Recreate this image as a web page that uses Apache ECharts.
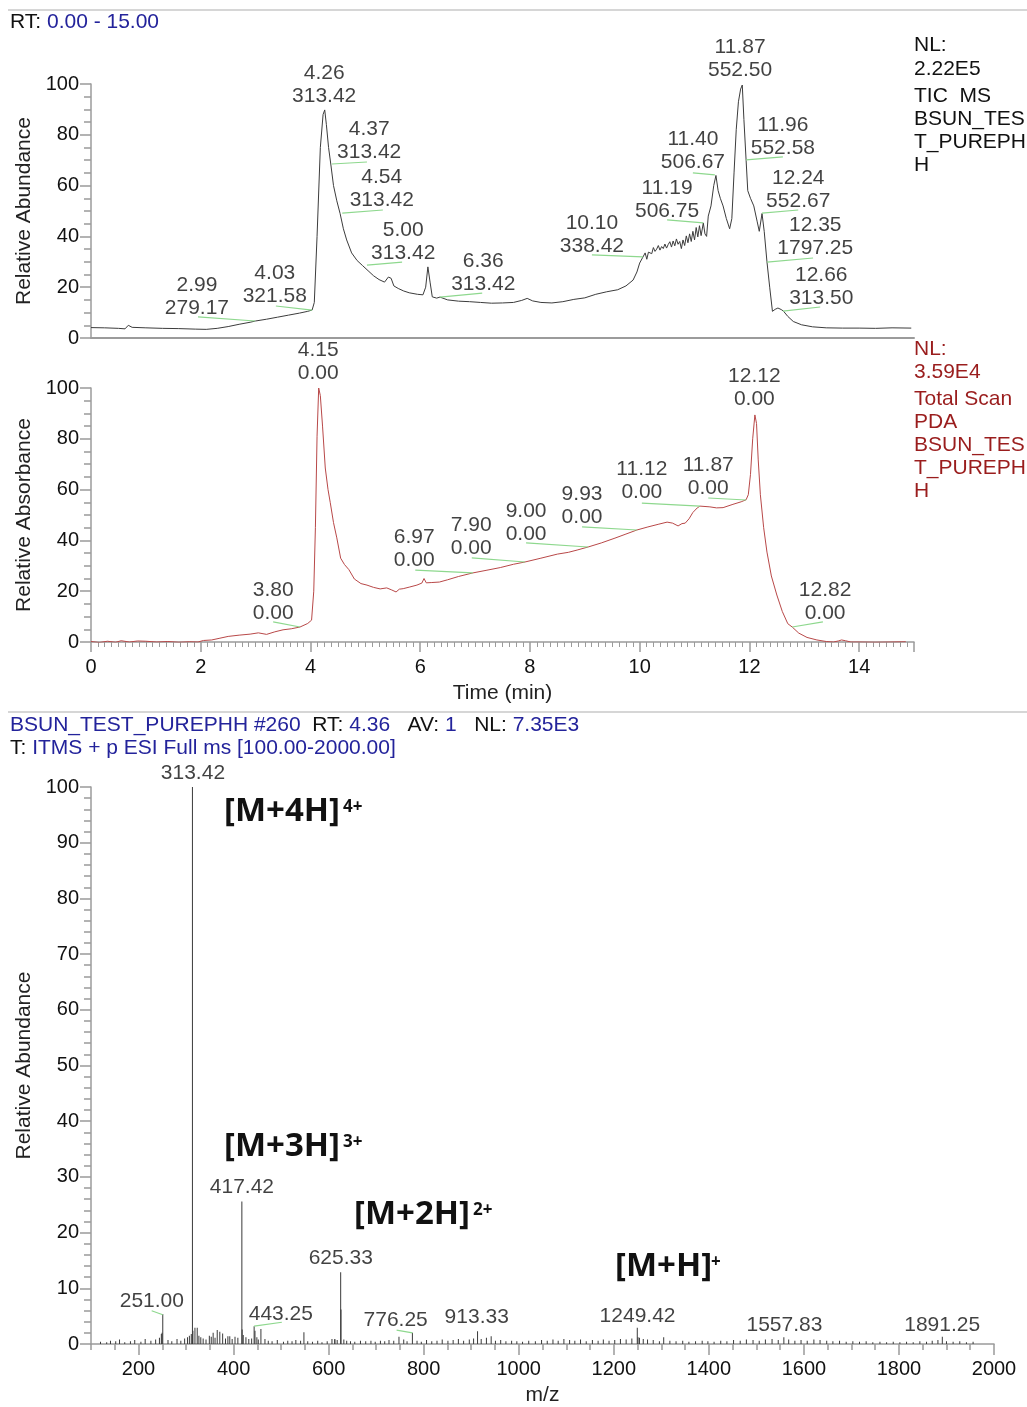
<!DOCTYPE html>
<html>
<head>
<meta charset="utf-8">
<title>BSUN_TEST_PUREPHH</title>
<script src="https://cdn.jsdelivr.net/npm/echarts@6/dist/echarts.min.js"></script>
<style>
  html, body { margin: 0; padding: 0; background: #fff; }
  #chart { width: 1027px; height: 1407px; }
</style>
</head>
<body>
<div id="chart"></div>
<script>
// TIC 色谱 (时间 min, 相对丰度 %)
const ticTrace = [
  [0.00,4.1],[0.25,4.0],[0.5,3.8],[0.62,3.6],[0.68,5.0],[0.75,4.2],[1.0,4.0],[1.3,3.8],[1.6,3.7],[1.9,3.5],
  [2.1,3.4],[2.3,3.8],[2.5,4.5],[2.7,5.4],[2.9,6.2],[3.0,6.7],[3.2,7.4],[3.4,8.2],[3.6,9.0],[3.8,9.8],
  [3.95,10.5],[4.03,11.0],[4.07,14],[4.12,40],[4.18,75],[4.23,88],[4.26,89.8],[4.29,84],[4.33,75],[4.37,68.5],
  [4.42,60],[4.48,54],[4.54,49],[4.6,43],[4.66,38.6],[4.75,33.5],[4.85,30.5],[4.95,28.5],[5.05,26.5],[5.15,24.5],
  [5.25,23],[5.35,22],[5.42,24],[5.47,23.5],[5.52,20.5],[5.6,19.5],[5.7,18.5],[5.8,17.8],[5.95,17.2],[6.05,17.0],
  [6.1,20],[6.14,28],[6.18,22],[6.22,16.2],[6.3,15.7],[6.36,16.1],[6.5,15.0],[6.7,14.5],[6.9,14.3],[7.1,14.0],
  [7.3,13.7],[7.5,13.8],[7.7,14.0],[7.85,14.8],[7.95,15.6],[8.05,14.6],[8.2,14.0],[8.4,13.8],[8.6,14.3],[8.8,15.2],
  [9.0,15.8],[9.2,17.2],[9.4,18.2],[9.6,19.0],[9.75,20.5],[9.88,22.8],[9.95,26],[10.0,29.5],[10.06,31.9],[10.1,33.5],
  [10.13,31.0],[10.16,33.8],[10.19,34.5],[10.22,33.2],[10.25,35.6],[10.28,34.1],[10.31,35.0],[10.34,36.4],[10.37,34.6],[10.40,36.0],
  [10.43,35.2],[10.46,37.0],[10.49,35.4],[10.52,36.8],[10.55,37.9],[10.58,35.8],[10.61,38.2],[10.64,36.3],[10.67,39.0],[10.70,36.9],
  [10.73,38.0],[10.76,35.2],[10.79,38.6],[10.82,36.4],[10.85,40.2],[10.88,37.5],[10.91,41.0],[10.94,38.0],[10.97,42.0],[11.00,38.6],
  [11.03,43.5],[11.06,39.8],[11.09,44.2],[11.12,40.3],[11.16,45.3],[11.19,41.0],[11.22,40.0],[11.25,48],[11.3,52],[11.35,60],
  [11.39,64],[11.43,58],[11.47,55],[11.52,52],[11.58,47],[11.64,43],[11.68,47],[11.72,65],[11.76,82],[11.8,93],
  [11.84,98],[11.87,99.6],[11.9,86],[11.94,70],[11.97,58],[12.02,55],[12.08,52],[12.14,46],[12.18,42],[12.23,49],
  [12.27,42],[12.32,30],[12.37,20],[12.42,10.5],[12.47,11.3],[12.52,11.8],[12.58,11.2],[12.62,10.6],[12.7,8.5],[12.8,6.5],
  [12.95,5.2],[13.15,4.4],[13.4,4.0],[13.7,3.9],[14.0,3.9],[14.3,3.8],[14.6,4.0],[14.95,3.9]
]

// PDA 色谱 (时间 min, 相对吸光度 %)
const pdaTrace = [
  [0,0.2],[0.15,-0.2],[0.3,0.3],[0.45,-0.1],[0.55,0.5],[0.7,0.0],[0.85,0.4],[1.0,0.3],[1.2,0.0],[1.4,0.2],
  [1.6,-0.1],[1.8,0.1],[1.95,0.0],[2.05,0.6],[2.2,0.8],[2.35,1.5],[2.5,2.2],[2.7,2.7],[2.9,3.1],[3.05,3.6],
  [3.2,3.0],[3.35,4.0],[3.5,4.8],[3.65,5.2],[3.81,5.9],[3.95,7.3],[4.02,8.6],[4.06,20],[4.09,45],[4.12,81],
  [4.15,100],[4.18,97],[4.22,85],[4.27,68.5],[4.32,60],[4.36,55],[4.42,47],[4.48,41],[4.55,33],[4.62,30.5],
  [4.7,28.5],[4.8,24.8],[4.92,23],[5.03,22.4],[5.15,21.5],[5.27,20.9],[5.39,21.3],[5.48,20.5],[5.56,19.7],[5.62,20.8],
  [5.69,21],[5.8,21.6],[5.94,22.4],[6.03,23.2],[6.07,25],[6.11,23.3],[6.2,23.4],[6.35,23.6],[6.5,24.5],[6.7,25.8],
  [6.96,27.2],[7.2,28.2],[7.46,29.3],[7.7,30.6],[7.91,31.5],[8.2,33.0],[8.5,34.6],[8.7,35.3],[8.86,36.2],[9.06,37.4],
  [9.3,39.0],[9.55,40.9],[9.75,42.5],[9.95,44.1],[10.15,45.3],[10.35,46.4],[10.5,47.2],[10.6,46.8],[10.7,45.7],[10.77,46.6],
  [10.83,46.8],[10.9,48.5],[10.97,51.0],[11.05,52.8],[11.1,53.5],[11.28,53.2],[11.4,52.8],[11.52,52.9],[11.7,54.2],[11.85,55.2],
  [11.94,56.0],[11.98,58],[12.02,66],[12.06,80],[12.1,89.4],[12.13,86],[12.16,72],[12.2,58],[12.26,45],[12.32,35.4],
  [12.4,26],[12.5,18.5],[12.6,12],[12.7,7.2],[12.78,5.9],[12.9,3.5],[13.05,1.8],[13.23,0.8],[13.4,0.2],[13.53,0.0],
  [13.62,0.4],[13.68,0.8],[13.75,0.5],[13.85,0.0],[14.0,0.0],[14.3,-0.1],[14.6,0.0],[14.85,0.1]
]

// 峰标注文字
const ticPeakRt = ['2.99','4.03','4.26','4.37','4.54','5.00','6.36','10.10','11.19','11.40','11.87','11.96','12.24','12.35','12.66']
const ticPeakMz = ['279.17','321.58','313.42','313.42','313.42','313.42','313.42','338.42','506.75','506.67','552.50','552.58','552.67','1797.25','313.50']
const pdaPeakRt = ['3.80','4.15','6.97','7.90','9.00','9.93','11.12','11.87','12.12','12.82']

// 标注位置 (数据坐标, 文字底部中心)
const ticLabelPos = [[1.93,6.9],[3.35,11.6],[4.25,90.4],[5.07,68.3],[5.30,49.4],[5.69,28.5],[7.15,16.3],[9.13,31.3],[10.50,45.1],[10.97,64.4],[11.83,100.6],[12.61,69.9],[12.89,49.0],[13.20,30.5],[13.31,10.8]]
const pdaLabelPos = [[3.32,6.5],[4.14,101],[5.89,27.4],[6.93,32.1],[7.93,37.6],[8.95,44.3],[10.04,54.1],[11.25,55.7],[12.09,90.7],[13.38,6.5]]
// 绿色引线
const ticLeaders = [[1.95,8.3,2.99,6.7],[3.37,12.6,4.03,11.0],[4.39,68.5,5.03,69.3],[4.58,49.2,5.32,50.4],[5.03,28.7,5.67,29.9],[6.36,16.1,7.13,17.7],[9.13,32.7,10.06,31.9],[10.5,46.5,11.16,45.3],[10.97,65,11.37,64.2],[11.94,70.1,12.61,71.3],[12.23,49.2,12.89,50.4],[12.32,29.9,13.16,31.5],[12.61,10.6,13.29,12.2]]
const pdaLeaders = [[3.32,7.9,3.81,5.9],[5.91,28.3,6.96,27.2],[6.94,33.1,7.91,31.5],[7.93,39,9.06,37.4],[8.95,45.3,9.95,44.1],[10.04,54.7,11.1,53.5],[11.25,56.7,11.94,55.9],[12.78,5.9,13.34,7.9]]

// 质谱 (m/z, 相对丰度 %)
const msPeakMz = [251.00, 313.42, 417.42, 443.25, 625.33, 776.25, 913.33, 1249.42, 1557.83, 1891.25]
const msPeakInt = [5.4, 100, 25.6, 3.2, 12.9, 2.0, 2.3, 2.9, 1.2, 1.3]
const msLabelPos = [[228,5.6],[314.5,100.5],[417.5,26.0],[499.5,3.2],[625.6,13.4],[741,2.15],[911.6,2.7],[1250,3.0],[1559,1.25],[1891,1.25]]
const msLeaders = [[227.6,5.97,251,5.25],[443.25,3.2,501.6,3.9],[743,2.5,776.25,2.0]]
const msMinorMz = [249.5, 314.4, 318.7, 323.5, 327.0, 357.0, 365.6, 371.0, 377.0, 392.0, 403.0, 418.0, 420.3, 445.0, 457.5, 548.0, 613.0, 626.0, 748.0, 942.0, 1251.0]
const msMinorInt = [2.0, 2.4, 2.9, 2.9, 1.5, 2.0, 2.5, 2.2, 1.9, 1.4, 1.3, 2.6, 1.6, 2.4, 2.7, 2.1, 0.9, 6.2, 1.3, 1.4, 1.2]
const msNoiseMz = [120,133,141,152,160,171,183,192,205,214,226,236,244,248,262,270,281,289,297,303,307,311,331,336,342,349,353,361,383,388,397,409,426,432,438,449,452,466,473,481,492,505,514,523,531,541,556,566,577,586,597,607,613,618,632,638,646,655,667,678,689,698,709,718,727,737,758,765,786,795,806,817,828,839,851,862,873,884,896,905,921,932,951,962,973,985,996,1008,1021,1035,1048,1060,1072,1083,1095,1107,1118,1130,1142,1155,1167,1178,1190,1202,1214,1226,1238,1254,1262,1271,1283,1296,1305,1318,1331,1345,1358,1372,1386,1398,1411,1425,1438,1452,1466,1479,1493,1506,1519,1533,1546,1568,1581,1594,1607,1621,1634,1648,1661,1675,1689,1703,1717,1731,1745,1760,1774,1788,1802,1816,1830,1844,1858,1870,1882,1900,1914,1928,1942,1956]
const msNoiseInt = [0.4,0.3,0.6,0.5,0.8,0.3,0.5,0.7,0.4,0.9,0.6,0.8,1.1,1.8,0.7,0.5,0.9,0.6,1.0,1.2,1.5,1.8,1.2,1.0,0.8,1.5,1.3,1.1,1.0,1.4,0.9,1.1,1.2,0.9,1.0,1.2,0.8,0.9,0.6,0.5,0.7,0.4,0.6,0.5,0.7,0.6,0.5,0.4,0.6,0.3,0.5,0.9,0.8,0.7,0.8,0.6,0.5,0.4,0.6,0.5,0.6,0.4,0.6,0.5,0.7,0.6,0.8,0.5,0.6,0.4,0.7,0.5,0.6,0.8,0.6,0.7,0.9,0.6,0.8,1.0,0.9,1.1,0.6,0.7,0.5,0.6,0.5,0.4,0.6,0.5,0.7,0.6,0.8,0.6,0.9,0.7,0.6,0.8,0.5,0.7,0.6,0.8,0.6,0.7,0.9,0.8,1.0,1.1,0.9,0.8,0.7,0.5,1.2,0.6,0.5,0.6,0.4,0.5,0.6,0.5,0.4,0.6,0.5,0.7,0.6,0.8,0.7,0.6,0.8,0.9,0.7,0.8,0.6,0.7,0.6,0.8,0.7,0.6,0.5,0.6,0.4,0.5,0.4,0.5,0.3,0.4,0.3,0.4,0.3,0.4,0.3,0.5,0.4,0.6,0.7,0.5,0.4,0.5,0.3,0.4]
const msTickValues = [200,400,600,800,1000,1200,1400,1600,1800,2000]

const FONT = 'Liberation Sans, Arial, sans-serif'
const BLUE = '#23239b'
const DARKRED = '#9a1d1d'
const AXIS_GRAY = '#9b9b9b'
const GREEN = '#8ed88e'

const zip = (a, b) => a.map((v, i) => [v, b[i]])
const leaderLines = (arr) => arr.map(d => [{ coord: [d[0], d[1]] }, { coord: [d[2], d[3]] }])

const yAxisBase = (grid, name, interval, minorSplit) => ({
  gridIndex: grid, type: 'value', min: 0, max: 100, interval: interval,
  name: name, nameLocation: 'middle', nameGap: 52,
  nameTextStyle: { fontSize: 21, color: '#222', fontFamily: FONT },
  axisLine: { show: true, lineStyle: { color: AXIS_GRAY, width: 1.5 } },
  axisTick: { show: true, length: 11, lineStyle: { color: AXIS_GRAY, width: 1.5 } },
  minorTick: { show: true, splitNumber: minorSplit, length: 7, lineStyle: { color: AXIS_GRAY, width: 1.5 } },
  axisLabel: { fontSize: 20, color: '#111', fontFamily: FONT, margin: 12 },
  splitLine: { show: false }, minorSplitLine: { show: false }
})

const labelSeries = (xi, texts, pos, leaders, lineH) => ({
  type: 'scatter', xAxisIndex: xi, yAxisIndex: xi, symbolSize: 1, clip: false, silent: true,
  itemStyle: { color: 'rgba(0,0,0,0)' },
  data: pos.map((p, i) => ({ value: p, t: texts[i] })),
  label: {
    show: true, position: 'top', distance: 0, color: '#111', fontSize: 21, lineHeight: lineH,
    fontFamily: FONT, formatter: (p) => p.data.t
  },
  markLine: {
    silent: true, symbol: ['none', 'none'], label: { show: false },
    lineStyle: { color: GREEN, width: 1.2, type: 'solid' },
    emphasis: { disabled: true },
    data: leaderLines(leaders)
  }
})

const text = (x, y, str, opt) => ({
  type: 'text', x: x, y: y, silent: true,
  style: Object.assign({ text: str, font: '21px ' + FONT, fill: '#111', verticalAlign: 'middle', align: 'left' }, opt || {})
})

const ticNL = ['NL:', '2.22E5', 'TIC  MS', 'BSUN_TES', 'T_PUREPH', 'H']
const ticNLy = [45, 69, 96, 119, 142, 165]
const pdaNL = ['NL:', '3.59E4', 'Total Scan', 'PDA', 'BSUN_TES', 'T_PUREPH', 'H']
const pdaNLy = [349, 372, 399, 422, 445, 468, 491]

const richColors = { k: { fill: '#111' }, b: { fill: BLUE } }
const BOLD = 'bold 33px Noto Sans, Open Sans, sans-serif'
const SUP = 'bold 17px Noto Sans, Open Sans, sans-serif'

const graphics = [
  { type: 'line', silent: true, shape: { x1: 8, y1: 10, x2: 1027, y2: 10 }, style: { stroke: '#c8c8c8', lineWidth: 1.5 } },
  { type: 'line', silent: true, shape: { x1: 8, y1: 712, x2: 1027, y2: 712 }, style: { stroke: '#c8c8c8', lineWidth: 1.5 } },
  text(10, 22, '{k|RT: }{b|0.00 - 15.00}', { rich: richColors }),
  text(10, 725, '{b|BSUN_TEST_PUREPHH #260}  {k|RT:} {b|4.36}   {k|AV:} {b|1}   {k|NL:} {b|7.35E3}', { rich: richColors }),
  text(10, 748, '{k|T:} {b|ITMS + p ESI Full ms [100.00-2000.00]}', { rich: richColors }),
  text(224, 812, '[M+4H]', { font: BOLD }),
  text(343, 807, '4+', { font: SUP }),
  text(224, 1147, '[M+3H]', { font: BOLD }),
  text(343, 1142, '3+', { font: SUP }),
  text(354, 1215, '[M+2H]', { font: BOLD }),
  text(473, 1210, '2+', { font: SUP }),
  text(615, 1267, '[M+H]', { font: BOLD }),
  text(711, 1262, '+', { font: SUP })
]
ticNL.forEach((s, i) => graphics.push(text(914, ticNLy[i], s)))
pdaNL.forEach((s, i) => graphics.push(text(914, pdaNLy[i], s, { fill: DARKRED })))

const msSticks = zip(msPeakMz, msPeakInt).concat(zip(msMinorMz, msMinorInt), zip(msNoiseMz, msNoiseInt))

const option = {
  animation: false,
  backgroundColor: '#fff',
  textStyle: { fontFamily: FONT },
  grid: [
    { left: 91, top: 84, width: 823, height: 254 },
    { left: 91, top: 388, width: 823, height: 254 },
    { left: 91, top: 787, width: 903, height: 558 }
  ],
  xAxis: [
    { gridIndex: 0, type: 'value', min: 0, max: 15,
      axisLine: { show: true, lineStyle: { color: AXIS_GRAY, width: 2 } },
      axisTick: { show: false }, axisLabel: { show: false }, splitLine: { show: false } },
    { gridIndex: 1, type: 'value', min: 0, max: 15, interval: 2, position: 'bottom',
      name: 'Time (min)', nameLocation: 'middle', nameGap: 41,
      nameTextStyle: { fontSize: 21, color: '#222', fontFamily: FONT },
      axisLine: { show: true, lineStyle: { color: AXIS_GRAY, width: 1.5 } },
      axisTick: { show: true, length: 10, lineStyle: { color: AXIS_GRAY, width: 1.5 } },
      minorTick: { show: true, splitNumber: 16, length: 5, lineStyle: { color: AXIS_GRAY } },
      axisLabel: { fontSize: 20, color: '#111', fontFamily: FONT, margin: 15, showMaxLabel: false },
      splitLine: { show: false }, minorSplitLine: { show: false } },
    { gridIndex: 2, type: 'value', min: 100, max: 2000, position: 'bottom',
      name: 'm/z', nameLocation: 'middle', nameGap: 41,
      nameTextStyle: { fontSize: 21, color: '#222', fontFamily: FONT },
      axisLine: { show: true, lineStyle: { color: AXIS_GRAY, width: 1.5 } },
      axisTick: { show: true, length: 11, customValues: msTickValues, lineStyle: { color: AXIS_GRAY, width: 1.5 } },
      axisLabel: { fontSize: 20, color: '#111', fontFamily: FONT, margin: 15, customValues: msTickValues,
        formatter: (v) => String(v) },
      splitLine: { show: false } },
    { gridIndex: 2, type: 'value', min: 100, max: 2000, interval: 50, position: 'bottom',
      axisLine: { show: false },
      axisTick: { show: true, length: 6, lineStyle: { color: AXIS_GRAY, width: 1.5 } },
      axisLabel: { show: false }, splitLine: { show: false } }
  ],
  yAxis: [
    yAxisBase(0, 'Relative Abundance', 20, 4),
    yAxisBase(1, 'Relative Absorbance', 20, 4),
    yAxisBase(2, 'Relative Abundance', 10, 5)
  ],
  graphic: graphics,
  series: [
    { type: 'line', xAxisIndex: 0, yAxisIndex: 0, data: ticTrace, showSymbol: false, silent: true,
      lineStyle: { color: '#3c3c3c', width: 1 } },
    labelSeries(0, ticPeakRt.map((r, i) => r + '\n' + ticPeakMz[i]), ticLabelPos, ticLeaders, 23),
    { type: 'line', xAxisIndex: 1, yAxisIndex: 1, data: pdaTrace, showSymbol: false, silent: true,
      lineStyle: { color: '#b84848', width: 1 } },
    labelSeries(1, pdaPeakRt.map(r => r + '\n0.00'), pdaLabelPos, pdaLeaders, 23),
    { type: 'bar', xAxisIndex: 2, yAxisIndex: 2, data: msSticks, barWidth: 1, silent: true,
      itemStyle: { color: '#3a3a3a' } },
    Object.assign(labelSeries(2, msPeakMz.map(m => m.toFixed(2)), msLabelPos, msLeaders, 22), { xAxisIndex: 2, yAxisIndex: 2 })
  ]
}

const chart = echarts.init(document.getElementById('chart'))
chart.setOption(option)
</script>
</body>
</html>
